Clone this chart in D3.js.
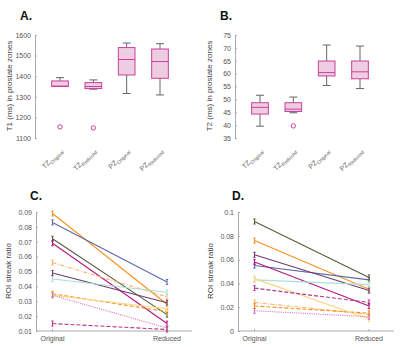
<html>
<head>
<script src="https://d3js.org/d3.v7.min.js"></script>
<style>
  body { margin: 0; background: white; }
  svg text { font-family: "Liberation Sans", Arial, sans-serif; }
  .axis .domain { stroke: #aaa; }
  .axis line { stroke: #aaa; }
  .axis text { fill: #555; font-size: 7px; }
</style>
</head>
<body>
<svg id="chart" width="400" height="347"></svg>
<script>
// ---- data ----
const zones = ["TZ", "TZ", "PZ", "PZ"];
const zoneSubs = ["Original", "Reduced", "Original", "Reduced"];

// [min, q1, median, q3, max]
const t1Stats = [
  [1350, 1350, 1352, 1377, 1393],
  [1337, 1340, 1350, 1369, 1382],
  [1316, 1406, 1481, 1539, 1561],
  [1309, 1390, 1471, 1532, 1558]
];
const t1Outliers = [[1154], [1149], [], []];
const t1Ticks = [1100, 1200, 1300, 1400, 1500, 1600];

const t2Stats = [
  [39.6, 44.3, 46.9, 48.7, 51.6],
  [44.8, 45.3, 46.2, 48.7, 50.9],
  [55.4, 59.1, 60.4, 64.9, 71.1],
  [54.2, 58.0, 60.7, 64.9, 70.7]
];
const t2Outliers = [[], [39.7], [], []];
const t2Ticks = [35, 40, 45, 50, 55, 60, 65, 70, 75];

const scans = ["Original", "Reduced"];
const cOriginal = [0.089, 0.083, 0.072, 0.069, 0.056, 0.049, 0.045, 0.035, 0.034, 0.034, 0.015];
const cReduced  = [0.028, 0.043, 0.021, 0.015, 0.033, 0.029, 0.036, 0.023, 0.025, 0.012, 0.011];
const cTicks = [0.01, 0.02, 0.03, 0.04, 0.05, 0.06, 0.07, 0.08, 0.09];

const dOriginal = [0.076, 0.055, 0.092, 0.058, 0.024, 0.064, 0.043, 0.021, 0.044, 0.017, 0.036];
const dReduced  = [0.035, 0.043, 0.045, 0.021, 0.014, 0.034, 0.039, 0.015, 0.010, 0.012, 0.024];
const dTicks = [0, 0.02, 0.04, 0.06, 0.08, 0.1];

// line styles per series (same order in C and D)
const seriesColors = ["#f7931e", "#5a69a8", "#565c3a", "#b5177f", "#fbb46c", "#6e3b6e",
                      "#a8e0d8", "#f7931e", "#fcd57e", "#d46cb4", "#b3378c"];
const seriesDash = [null, null, null, null, "4,1.5,1,1.5", null,
                    null, "4,2", null, "1,1.2", "4,2"];

const svg = d3.select("#chart");

function boxPanel(ox, stats, outliers, ticks, yLabel, title) {
  const g = svg.append("g");
  const x = d3.scaleBand().domain(d3.range(4)).range([ox + 35, ox + 185]).padding(0.5);
  const y = d3.scaleLinear().domain([ticks[0], ticks[ticks.length - 1]]).range([138, 35]);

  g.append("g").attr("class", "axis")
    .attr("transform", `translate(${ox + 35},0)`)
    .call(d3.axisLeft(y).tickValues(ticks).tickFormat(d3.format("d"))
      .tickSizeInner(-2).tickSizeOuter(0).tickPadding(4));

  g.append("text").attr("transform", `translate(${ox + 12},86) rotate(-90)`)
    .attr("text-anchor", "middle").attr("font-size", 8).attr("fill", "#444").text(yLabel);

  g.append("text").attr("x", ox + 20).attr("y", 20).attr("font-size", 12)
    .attr("font-weight", "bold").attr("fill", "#111").text(title);

  const boxes = g.selectAll("g.box").data(stats).join("g").attr("class", "box");
  boxes.each(function (d, i) {
    const b = d3.select(this);
    const cx = x(i) + x.bandwidth() / 2;
    const hw = x.bandwidth() / 2;
    b.append("line").attr("x1", cx).attr("x2", cx).attr("y1", y(d[4])).attr("y2", y(d[3]))
      .attr("stroke", "#666").attr("stroke-width", 1);
    b.append("line").attr("x1", cx).attr("x2", cx).attr("y1", y(d[1])).attr("y2", y(d[0]))
      .attr("stroke", "#666").attr("stroke-width", 1);
    b.append("line").attr("x1", cx - 4).attr("x2", cx + 4).attr("y1", y(d[4])).attr("y2", y(d[4]))
      .attr("stroke", "#666");
    b.append("line").attr("x1", cx - 4).attr("x2", cx + 4).attr("y1", y(d[0])).attr("y2", y(d[0]))
      .attr("stroke", "#666");
    b.append("rect").attr("x", cx - hw).attr("width", hw * 2)
      .attr("y", y(d[3])).attr("height", y(d[1]) - y(d[3]))
      .attr("fill", "#eecde2").attr("stroke", "#c8419a").attr("stroke-width", 1);
    b.append("line").attr("x1", cx - hw).attr("x2", cx + hw).attr("y1", y(d[2])).attr("y2", y(d[2]))
      .attr("stroke", "#c8419a").attr("stroke-width", 1);
    b.selectAll("circle").data(outliers[i]).join("circle")
      .attr("cx", cx).attr("cy", v => y(v)).attr("r", 2.2)
      .attr("fill", "none").attr("stroke", "#c8419a").attr("stroke-width", 1);

    const lbl = g.append("text").attr("text-anchor", "end").attr("font-size", 7).attr("fill", "#666")
      .attr("transform", `translate(${cx + 3},151) rotate(-45)`);
    lbl.append("tspan").text(zones[i]);
    lbl.append("tspan").attr("font-size", 5).attr("dy", 2).text(zoneSubs[i]);
  });
}

function linePanel(ox, orig, red, ticks, fmt, title) {
  const g = svg.append("g");
  const x = d3.scalePoint().domain(scans).range([ox + 52.5, ox + 167]);
  const y = d3.scaleLinear().domain([ticks[0], ticks[ticks.length - 1]]).range([331, 212]);

  g.append("g").attr("class", "axis")
    .attr("transform", `translate(${ox + 36},0)`)
    .call(d3.axisLeft(y).tickValues(ticks).tickFormat(fmt).tickSizeInner(-2).tickSizeOuter(0).tickPadding(4));

  g.append("line").attr("x1", ox + 36).attr("x2", ox + 192).attr("y1", 331).attr("y2", 331)
    .attr("stroke", "#aaa");
  g.selectAll("line.xt").data(scans).join("line").attr("class", "xt")
    .attr("x1", d => x(d)).attr("x2", d => x(d)).attr("y1", 331).attr("y2", 329).attr("stroke", "#aaa");
  g.selectAll("text.xl").data(scans).join("text").attr("class", "xl")
    .attr("x", d => x(d)).attr("y", 341).attr("text-anchor", "middle")
    .attr("font-size", 7).attr("fill", "#555").text(d => d);

  g.append("text").attr("transform", `translate(${ox + 11},271) rotate(-90)`)
    .attr("text-anchor", "middle").attr("font-size", 8).attr("fill", "#444").text("ROI streak ratio");

  g.append("text").attr("x", ox + 30).attr("y", 200).attr("font-size", 12)
    .attr("font-weight", "bold").attr("fill", "#111").text(title);

  const rows = orig.map((v, i) => ({ a: v, b: red[i], i: i }));
  const s = g.selectAll("g.series").data(rows).join("g").attr("class", "series");
  s.append("line")
    .attr("x1", x("Original")).attr("x2", x("Reduced"))
    .attr("y1", d => y(d.a)).attr("y2", d => y(d.b))
    .attr("stroke", d => seriesColors[d.i]).attr("stroke-width", 1.1)
    .attr("stroke-dasharray", d => seriesDash[d.i]);
  [["Original", "a"], ["Reduced", "b"]].forEach(([k, f]) => {
    s.append("path")
      .attr("d", d => {
        const px = x(k), py = y(d[f]);
        return `M${px},${py - 2.5}V${py + 2.5}M${px - 1.2},${py - 2.5}H${px + 1.2}M${px - 1.2},${py + 2.5}H${px + 1.2}`;
      })
      .attr("stroke", d => seriesColors[d.i]).attr("stroke-width", 1).attr("fill", "none");
  });
}

boxPanel(0, t1Stats, t1Outliers, t1Ticks, "T1 (ms) in prostate zones", "A.");
boxPanel(200, t2Stats, t2Outliers, t2Ticks, "T2 (ms) in prostate zones", "B.");
linePanel(0, cOriginal, cReduced, cTicks, d3.format(".2f"), "C.");
linePanel(202, dOriginal, dReduced, dTicks, d3.format("~g"), "D.");
</script>
</body>
</html>
